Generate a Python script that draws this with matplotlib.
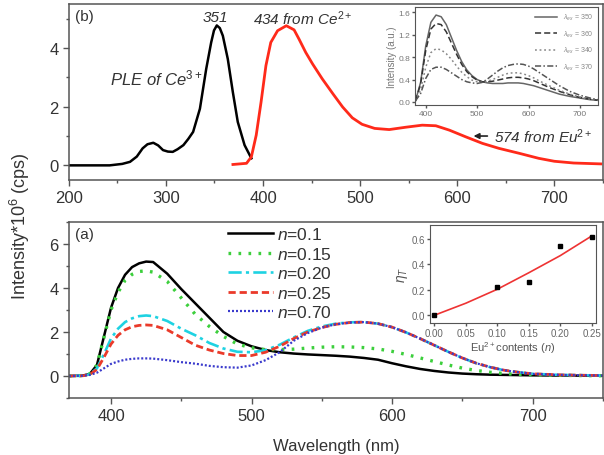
"""
Two-panel luminescence figure: PLE/PL spectra (b) and Eu-content series (a)
"""

import matplotlib
matplotlib.use('Agg')
import matplotlib.pyplot as plt
from matplotlib.ticker import MultipleLocator, FormatStrFormatter

plt.rcParams['font.family'] = ['Liberation Sans', 'DejaVu Sans']
plt.rcParams['mathtext.fontset'] = 'custom'
plt.rcParams['mathtext.rm'] = 'Liberation Sans'
plt.rcParams['mathtext.it'] = 'Liberation Sans:italic'

TXT = '#333333'
SPINE = '#555555'

# ---- panel (b): excitation and emission ----
ple_wl = [200, 242, 255, 263, 270, 276, 281, 287, 292, 297, 302, 307, 312, 318,
          323, 328, 335, 341.5, 346.6, 349.5, 352.4, 355.5, 358.6, 363.7, 368.9,
          374, 381, 388]
ple_val = [0.0, 0.0, 0.05, 0.12, 0.3, 0.58, 0.72, 0.77, 0.68, 0.52, 0.47, 0.46,
           0.55, 0.69, 0.9, 1.14, 1.93, 3.29, 4.19, 4.6, 4.77, 4.68, 4.42, 3.63,
           2.5, 1.48, 0.69, 0.24]

pl_wl = [369, 383, 388, 393, 398, 403, 408, 415, 424, 432, 437, 444, 451, 461,
         472, 482, 492, 502, 515, 530, 547, 564, 578, 592, 609, 626, 643, 664,
         684, 700, 720, 748]
pl_val = [0.03, 0.07, 0.29, 1.03, 2.16, 3.4, 4.19, 4.59, 4.76, 4.62, 4.31, 3.85,
          3.46, 2.95, 2.44, 1.99, 1.62, 1.4, 1.26, 1.22, 1.3, 1.37, 1.35, 1.2,
          0.97, 0.75, 0.58, 0.41, 0.24, 0.14, 0.08, 0.05]

# inset of (b): emission at different excitation wavelengths
ins_wl = [380, 390, 400, 410, 420, 430, 440, 450, 460, 470, 480, 490, 500, 510,
          520, 530, 540, 550, 560, 570, 580, 590, 600, 610, 620, 640, 660, 680,
          700, 720, 735]
ex350 = [0.02, 0.35, 1.0, 1.42, 1.55, 1.52, 1.38, 1.15, 0.92, 0.72, 0.57, 0.47,
         0.40, 0.36, 0.34, 0.33, 0.33, 0.33, 0.34, 0.34, 0.34, 0.33, 0.31, 0.29,
         0.26, 0.20, 0.14, 0.10, 0.07, 0.04, 0.03]
ex360 = [0.02, 0.32, 0.92, 1.3, 1.4, 1.38, 1.25, 1.05, 0.85, 0.67, 0.54, 0.45,
         0.39, 0.36, 0.36, 0.37, 0.39, 0.41, 0.43, 0.44, 0.44, 0.43, 0.41, 0.38,
         0.34, 0.26, 0.19, 0.13, 0.08, 0.05, 0.03]
ex340 = [0.02, 0.22, 0.62, 0.88, 0.95, 0.93, 0.86, 0.76, 0.64, 0.53, 0.45, 0.39,
         0.36, 0.35, 0.37, 0.40, 0.44, 0.48, 0.51, 0.52, 0.52, 0.50, 0.47, 0.43,
         0.38, 0.29, 0.21, 0.14, 0.09, 0.05, 0.03]
ex370 = [0.02, 0.15, 0.42, 0.58, 0.62, 0.62, 0.58, 0.52, 0.46, 0.40, 0.36, 0.34,
         0.33, 0.35, 0.41, 0.48, 0.55, 0.61, 0.65, 0.67, 0.68, 0.67, 0.64, 0.59,
         0.53, 0.41, 0.29, 0.19, 0.12, 0.07, 0.04]
ex_labels = ['350', '360', '340', '370']

# ---- panel (a): emission for different Eu contents ----
wl = [370, 380, 385, 390, 395, 400, 405, 410, 415, 420, 425, 430, 440, 450, 460,
      470, 480, 490, 500, 510, 520, 530, 540, 550, 560, 570, 580, 590, 600, 610,
      620, 630, 640, 650, 660, 670, 680, 690, 700, 720, 750]
n010 = [0, 0.02, 0.1, 0.5, 1.8, 3.1, 4.0, 4.6, 4.95, 5.12, 5.2, 5.18, 4.65, 3.95,
        3.3, 2.65, 2.0, 1.6, 1.35, 1.18, 1.08, 1.02, 0.98, 0.95, 0.92, 0.88,
        0.82, 0.74, 0.58, 0.44, 0.32, 0.23, 0.16, 0.11, 0.08, 0.06, 0.05, 0.04,
        0.03, 0.02, 0.01]
n015 = [0, 0.02, 0.1, 0.5, 1.75, 3.0, 3.8, 4.35, 4.62, 4.75, 4.78, 4.72, 4.3,
        3.55, 2.8, 2.25, 1.8, 1.45, 1.28, 1.2, 1.2, 1.22, 1.27, 1.31, 1.33, 1.32,
        1.29, 1.23, 1.12, 0.98, 0.82, 0.66, 0.5, 0.36, 0.25, 0.17, 0.11, 0.07,
        0.05, 0.03, 0.01]
n020 = [0, 0.01, 0.08, 0.35, 1.0, 1.7, 2.15, 2.45, 2.62, 2.72, 2.75, 2.72, 2.5,
        2.15, 1.85, 1.5, 1.25, 1.1, 1.08, 1.17, 1.42, 1.75, 2.05, 2.25, 2.38,
        2.44, 2.45, 2.38, 2.22, 1.98, 1.7, 1.4, 1.1, 0.82, 0.58, 0.4, 0.26, 0.17,
        0.1, 0.05, 0.02]
n025 = [0, 0.01, 0.07, 0.3, 0.85, 1.45, 1.85, 2.1, 2.24, 2.3, 2.32, 2.3, 2.1,
        1.75, 1.4, 1.18, 1.02, 0.93, 0.93, 1.08, 1.35, 1.7, 2.0, 2.2, 2.35, 2.43,
        2.45, 2.38, 2.22, 1.98, 1.7, 1.4, 1.1, 0.82, 0.58, 0.4, 0.26, 0.17, 0.1,
        0.05, 0.02]
n070 = [0, 0.01, 0.05, 0.15, 0.35, 0.55, 0.66, 0.74, 0.78, 0.8, 0.8, 0.79, 0.72,
        0.63, 0.56, 0.46, 0.4, 0.38, 0.48, 0.72, 1.08, 1.6, 1.95, 2.2, 2.35,
        2.43, 2.45, 2.38, 2.22, 1.98, 1.7, 1.4, 1.1, 0.82, 0.58, 0.4, 0.26, 0.17,
        0.1, 0.05, 0.02]
n_labels = ['0.1', '0.15', '0.20', '0.25', '0.70']

# inset of (a): energy transfer efficiency
eu_n = [0.0, 0.10, 0.15, 0.20, 0.25]
eta = [0.0, 0.22, 0.26, 0.545, 0.615]
fit_n = [0.0, 0.05, 0.10, 0.15, 0.20, 0.25]
fit_eta = [0.0, 0.095, 0.205, 0.335, 0.47, 0.625]


def style_axes(ax, size=12, spine_w=1.1):
    for s in ax.spines.values():
        s.set_color(SPINE)
        s.set_linewidth(spine_w)
    ax.tick_params(which='both', direction='out', colors=SPINE,
                   labelcolor=TXT, labelsize=size, top=False, right=False)
    ax.tick_params(which='major', length=4, width=1)
    ax.tick_params(which='minor', length=2.5, width=1)


fig = plt.figure(figsize=(6.04, 4.56), dpi=100)

# top panel (b)
axb = fig.add_axes([0.114, 0.603, 0.884, 0.386])
axb.plot(ple_wl, ple_val, color='black', lw=1.8)
axb.plot(pl_wl, pl_val, color='#ff2a1a', lw=2.0)
axb.set_xlim(200, 750)
axb.set_ylim(-0.5, 5.5)
axb.xaxis.set_major_locator(MultipleLocator(100))
axb.xaxis.set_minor_locator(MultipleLocator(50))
axb.yaxis.set_major_locator(MultipleLocator(2))
axb.yaxis.set_minor_locator(MultipleLocator(1))
style_axes(axb)
axb.text(0.012, 0.97, '(b)', transform=axb.transAxes, ha='left', va='top',
         fontsize=11, color=TXT)
axb.text(351, 5.05, '351', ha='center', va='center', fontsize=11,
         style='italic', color=TXT)
axb.text(390, 5.05, '434 from Ce$^{2+}$', ha='left', va='center', fontsize=11,
         style='italic', color=TXT)
axb.text(242, 3.0, 'PLE of Ce$^{3+}$', ha='left', va='center', fontsize=12,
         style='italic', color=TXT)
axb.text(638, 1.0, '574 from Eu$^{2+}$', ha='left', va='center', fontsize=11,
         style='italic', color=TXT)
axb.annotate('', xy=(614, 1.0), xytext=(634, 1.0),
             arrowprops=dict(arrowstyle='-|>', color='#222222', lw=1.2,
                             mutation_scale=8))

# inset of (b)
axbi = fig.add_axes([0.687, 0.768, 0.303, 0.214])
ex_styles = ['-', (0, (4, 2)), (0, (1.2, 1.8)), (0, (4, 1.5, 1, 1.5))]
ex_colors = ['#666666', '#333333', '#888888', '#555555']
for vals, lab, ls, c in zip([ex350, ex360, ex340, ex370], ex_labels,
                            ex_styles, ex_colors):
    axbi.plot(ins_wl, vals, ls=ls, color=c, lw=1.1,
              label='$\\lambda_{ex}$ = ' + lab)
axbi.set_xlim(379, 735)
axbi.set_ylim(-0.05, 1.69)
axbi.xaxis.set_major_locator(MultipleLocator(100))
axbi.yaxis.set_major_locator(MultipleLocator(0.4))
style_axes(axbi, size=6, spine_w=0.8)
axbi.tick_params(which='major', length=2, pad=1.5, labelcolor='#777777')
axbi.set_ylabel('Intensity (a.u.)', fontsize=7, color='#777777', labelpad=1)
leg = axbi.legend(loc='upper right', fontsize=5, frameon=False,
                  handlelength=3.2, labelspacing=0.9, borderaxespad=0.3)
for t in leg.get_texts():
    t.set_color('#888888')

# bottom panel (a)
axa = fig.add_axes([0.114, 0.125, 0.884, 0.386])
series = [n010, n015, n020, n025, n070]
colors = ['black', '#3ccf3c', '#1ed2e2', '#ea3a2a', '#3a3acc']
styles = ['-', (0, (0.8, 2.2)), (0, (5, 1.6, 1.2, 1.6)), (0, (2.6, 1.4)),
          (0, (0.9, 0.9))]
widths = [1.8, 2.4, 1.9, 2.0, 1.6]
for vals, lab, c, ls, w in zip(series, n_labels, colors, styles, widths):
    axa.plot(wl, vals, color=c, ls=ls, lw=w, label='$n$=' + lab)
axa.set_xlim(370, 750)
axa.set_ylim(-1, 7)
axa.xaxis.set_major_locator(MultipleLocator(100))
axa.xaxis.set_minor_locator(MultipleLocator(50))
axa.yaxis.set_major_locator(MultipleLocator(2))
axa.yaxis.set_minor_locator(MultipleLocator(1))
style_axes(axa)
axa.text(0.012, 0.97, '(a)', transform=axa.transAxes, ha='left', va='top',
         fontsize=11, color=TXT)
lega = axa.legend(loc='upper left', bbox_to_anchor=(0.268, 1.065),
                  frameon=False, fontsize=12.5, handlelength=2.6,
                  handletextpad=0.25, labelspacing=0.2)
for t in lega.get_texts():
    t.set_color(TXT)

# inset of (a)
axai = fig.add_axes([0.712, 0.289, 0.275, 0.215])
axai.plot(fit_n, fit_eta, color='#ee3333', lw=1.2)
axai.plot(eu_n, eta, 's', color='black', ms=3.2)
axai.set_xlim(-0.007, 0.257)
axai.set_ylim(-0.063, 0.71)
axai.xaxis.set_major_locator(MultipleLocator(0.05))
axai.yaxis.set_major_locator(MultipleLocator(0.2))
axai.xaxis.set_major_formatter(FormatStrFormatter('%.2f'))
axai.yaxis.set_major_formatter(FormatStrFormatter('%.1f'))
style_axes(axai, size=7, spine_w=0.8)
axai.tick_params(which='major', length=2, pad=1.5, labelcolor='#666666')
axai.set_xlabel('Eu$^{2+}$contents ($n$)', fontsize=8, color='#555555',
                labelpad=1)
axai.set_ylabel('$\\eta_T$', fontsize=10, color='#555555', labelpad=1)

fig.text(0.033, 0.505, 'Intensity*10$^6$ (cps)', rotation=90, ha='center',
         va='center', fontsize=13, color=TXT)
fig.text(0.556, 0.02, 'Wavelength (nm)', ha='center', va='center',
         fontsize=12, color=TXT)

plt.savefig('out.png', dpi=100)
plt.close(fig)
